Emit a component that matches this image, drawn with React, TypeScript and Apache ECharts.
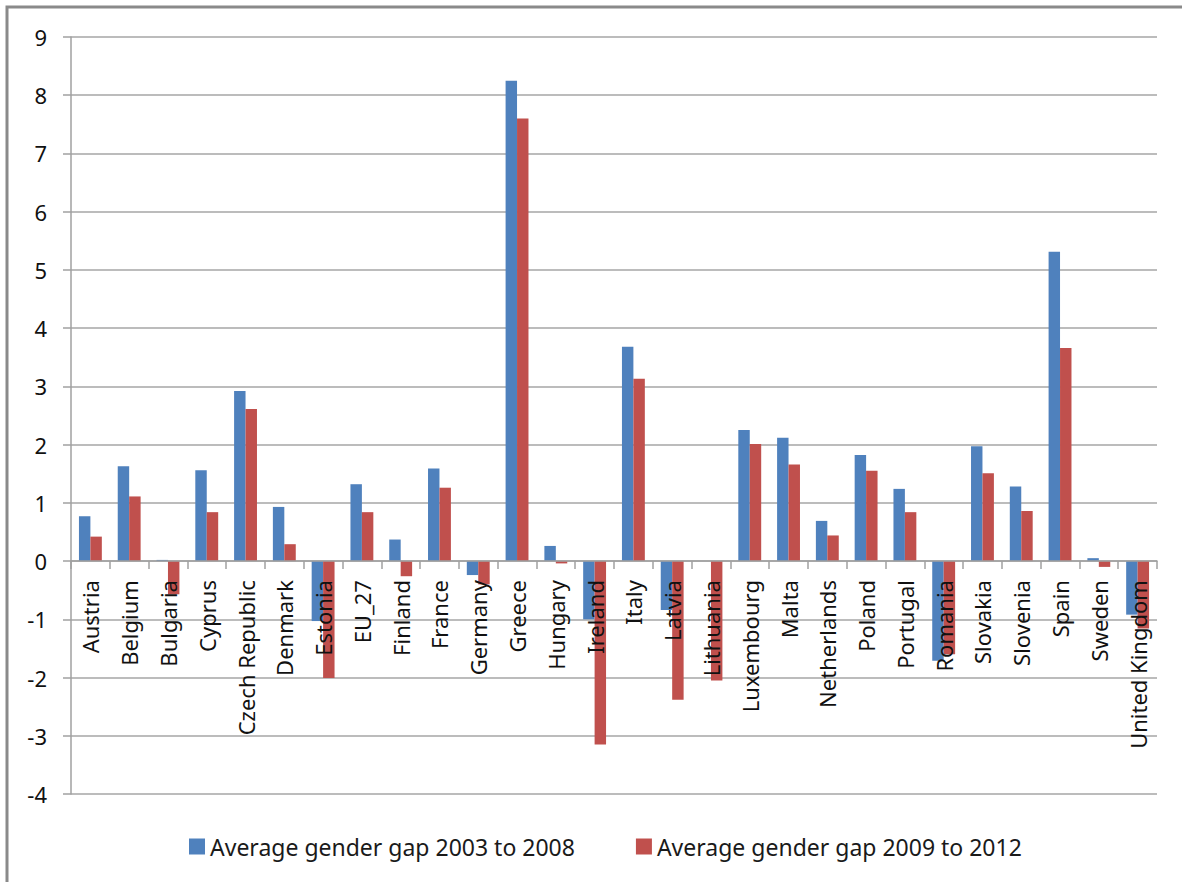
import React, { useEffect, useRef } from "react";
import * as echarts from "echarts";

// Countries shown along the category axis
const countries = [
  "Austria", "Belgium", "Bulgaria", "Cyprus", "Czech Republic", "Denmark", "Estonia",
  "EU_27", "Finland", "France", "Germany", "Greece", "Hungary", "Ireland", "Italy",
  "Latvia", "Lithuania", "Luxembourg", "Malta", "Netherlands", "Poland", "Portugal",
  "Romania", "Slovakia", "Slovenia", "Spain", "Sweden", "United Kingdom",
];

// Average gender gap, 2003 to 2008
const gap2003to2008 = [
  0.77, 1.63, 0.02, 1.56, 2.92, 0.93, -1.03, 1.32, 0.37, 1.59, -0.24, 8.25, 0.26, -1.0,
  3.68, -0.84, 0, 2.25, 2.12, 0.69, 1.82, 1.24, -1.71, 1.97, 1.28, 5.31, 0.05, -0.92,
];

// Average gender gap, 2009 to 2012
const gap2009to2012 = [
  0.42, 1.11, -0.57, 0.84, 2.61, 0.29, -2.01, 0.84, -0.26, 1.26, -0.4, 7.6, -0.04, -3.15,
  3.13, -2.38, -2.05, 2.01, 1.66, 0.44, 1.55, 0.84, -1.6, 1.51, 0.86, 3.66, -0.1, -1.16,
];

const seriesNames = ["Average gender gap 2003 to 2008", "Average gender gap 2009 to 2012"];

const yMin = -4;
const yMax = 9;

const FONT = "Noto Sans";

// Plot area
const GRID_TOP = 37;
const GRID_BOTTOM = 88;
const CHART_H = 882;

export default function App() {
  const ref = useRef<HTMLDivElement>(null);

  useEffect(() => {
    document.body.style.margin = "0";
    if (!ref.current) return;
    const chart = echarts.init(ref.current, undefined, { renderer: "svg" });

    // lift the category axis from the bottom of the grid up to the zero line
    const plotH = CHART_H - GRID_TOP - GRID_BOTTOM;
    const zeroOffset = -plotH * (0 - yMin) / (yMax - yMin);

    chart.setOption({
      animation: false,
      backgroundColor: "#ffffff",
      textStyle: { fontFamily: FONT },
      grid: {
        left: 71,
        top: GRID_TOP,
        right: 25,
        bottom: GRID_BOTTOM,
        containLabel: false,
        outerBoundsMode: "none",
      },
      graphic: [
        {
          type: "rect",
          shape: { x: 7, y: 7, width: 1300, height: 1000 },
          style: { fill: "none", stroke: "#8a8a8a", lineWidth: 3 },
          silent: true,
        },
      ],
      legend: {
        left: 184,
        top: 830,
        itemWidth: 16,
        itemHeight: 16,
        itemGap: 61,
        icon: "rect",
        textStyle: { fontFamily: FONT, fontSize: 23, color: "#1a1a1a" },
        data: seriesNames,
      },
      xAxis: {
        type: "category",
        data: countries,
        z: 5,
        position: "bottom",
        offset: zeroOffset,
        axisLine: { onZero: false, lineStyle: { color: "#a0a0a0", width: 1.5 } },
        axisTick: { show: true, length: 8, alignWithLabel: false, lineStyle: { color: "#a0a0a0", width: 1.5 } },
        axisLabel: {
          interval: 0,
          rotate: 90,
          margin: 19,
          fontFamily: FONT,
          fontSize: 22,
          color: "#111111",
        },
        splitLine: { show: false },
      },
      yAxis: {
        type: "value",
        min: yMin,
        max: yMax,
        interval: 1,
        axisLine: { show: true, lineStyle: { color: "#a0a0a0", width: 1.5 } },
        axisTick: { show: true, length: 8, lineStyle: { color: "#a0a0a0", width: 1.5 } },
        axisLabel: { margin: 24, fontFamily: FONT, fontSize: 22, color: "#111111" },
        splitLine: { show: true, lineStyle: { color: "#a6a6a6", width: 1.5 } },
      },
      series: [
        {
          name: seriesNames[0],
          type: "bar",
          data: gap2003to2008,
          barGap: "0%",
          barCategoryGap: "41%",
          itemStyle: { color: "#4f81bd" },
        },
        {
          name: seriesNames[1],
          type: "bar",
          data: gap2009to2012,
          barGap: "0%",
          barCategoryGap: "41%",
          itemStyle: { color: "#c0504d" },
        },
      ],
    });
    return () => chart.dispose();
  }, []);

  return <div ref={ref} style={{ width: 1182, height: 882 }} />;
}
